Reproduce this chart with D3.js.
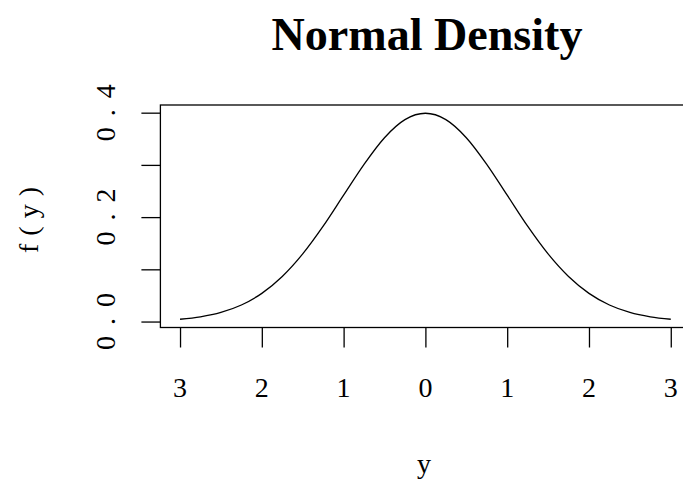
<!DOCTYPE html>
<html>
<head>
<meta charset="utf-8">
<script src="https://cdn.jsdelivr.net/npm/d3@7"></script>
<style>
  body { margin: 0; background: #fff; }
  text { font-family: "Liberation Serif", "DejaVu Serif", serif; fill: #000; }
</style>
</head>
<body>
<script>
// density values
var yValues = [-3, -2.75, -2.5, -2.25, -2, -1.75, -1.5, -1.25, -1, -0.75, -0.5, -0.25, 0,
               0.25, 0.5, 0.75, 1, 1.25, 1.5, 1.75, 2, 2.25, 2.5, 2.75, 3];
var density = [0.0044, 0.0091, 0.0175, 0.0317, 0.0540, 0.0863, 0.1295, 0.1826, 0.2420, 0.3011, 0.3521, 0.3867, 0.3989,
               0.3867, 0.3521, 0.3011, 0.2420, 0.1826, 0.1295, 0.0863, 0.0540, 0.0317, 0.0175, 0.0091, 0.0044];

// ticks and their labels (labels as printed, minus signs lost)
var xTicks = [-3, -2, -1, 0, 1, 2, 3];
var xTickLabels = ["3", "2", "1", "0", "1", "2", "3"];
var yTicks = [0, 0.1, 0.2, 0.3, 0.4];
var yTickLabels = ["0.0", "0.2", "0.4"];
var yLabelTicks = [0, 0.2, 0.4];

var titleText = "Normal Density";
var xLabel = "y";
var yLabel = "f(y)";

var svgWidth = 683;
var svgHeight = 482;

var data = yValues.map(function(v, i) { return { y: v, f: density[i] }; });

var svg = d3.select("body")
  .append("svg")
  .attr("width", svgWidth)
  .attr("height", svgHeight);

// scales (plot region runs off the right edge like the original)
var xScale = d3.scaleLinear()
  .domain([-3.24, 3.24])
  .range([160.4, 690.4]);

var yScale = d3.scaleLinear()
  .domain([-0.0114, 0.4147])
  .range([327.5, 105]);

// box
svg.append("rect")
  .attr("x", xScale(-3.24))
  .attr("y", yScale(0.4147))
  .attr("width", xScale(3.24) - xScale(-3.24))
  .attr("height", yScale(-0.0114) - yScale(0.4147))
  .attr("fill", "none")
  .attr("stroke", "#000")
  .attr("stroke-width", 1.3);

// bottom axis
var bottomAxis = d3.axisBottom(xScale)
  .tickValues(xTicks)
  .tickSize(20)
  .tickSizeOuter(0)
  .tickFormat("");

var xAxisG = svg.append("g")
  .attr("transform", `translate(0, ${yScale(-0.0114)})`)
  .call(bottomAxis);
xAxisG.select(".domain").remove();
xAxisG.selectAll("line").attr("stroke", "#000").attr("stroke-width", 1.3);

svg.selectAll(".xlab")
  .data(xTicks)
  .enter()
  .append("text")
  .attr("class", "xlab")
  .attr("x", d => xScale(d))
  .attr("y", 397)
  .attr("text-anchor", "middle")
  .attr("font-size", 28)
  .text((d, i) => xTickLabels[i]);

// left axis
var leftAxis = d3.axisLeft(yScale)
  .tickValues(yTicks)
  .tickSize(19)
  .tickSizeOuter(0)
  .tickFormat("");

var yAxisG = svg.append("g")
  .attr("transform", `translate(${xScale(-3.24)}, 0)`)
  .call(leftAxis);
yAxisG.select(".domain").remove();
yAxisG.selectAll("line").attr("stroke", "#000").attr("stroke-width", 1.3);

svg.selectAll(".ylab")
  .data(yLabelTicks)
  .enter()
  .append("text")
  .attr("class", "ylab")
  .attr("transform", d => `translate(115, ${yScale(d)}) rotate(-90)`)
  .attr("text-anchor", "middle")
  .attr("font-size", 28)
  .attr("textLength", 57)
  .attr("lengthAdjust", "spacing")
  .text((d, i) => yTickLabels[i]);

// density curve
var line = d3.line()
  .x(d => xScale(d.y))
  .y(d => yScale(d.f))
  .curve(d3.curveMonotoneX);

svg.append("path")
  .datum(data)
  .attr("d", line)
  .attr("fill", "none")
  .attr("stroke", "#000")
  .attr("stroke-width", 1.3);

// title and axis labels
svg.append("text")
  .attr("x", 427)
  .attr("y", 50)
  .attr("text-anchor", "middle")
  .attr("font-size", 46)
  .attr("font-weight", "bold")
  .attr("textLength", 311)
  .attr("lengthAdjust", "spacingAndGlyphs")
  .text(titleText);

svg.append("text")
  .attr("x", 424)
  .attr("y", 473)
  .attr("text-anchor", "middle")
  .attr("font-size", 28)
  .text(xLabel);

svg.append("text")
  .attr("transform", "translate(38, 220) rotate(-90)")
  .attr("text-anchor", "middle")
  .attr("font-size", 28)
  .attr("textLength", 66)
  .attr("lengthAdjust", "spacing")
  .text(yLabel);
</script>
</body>
</html>
